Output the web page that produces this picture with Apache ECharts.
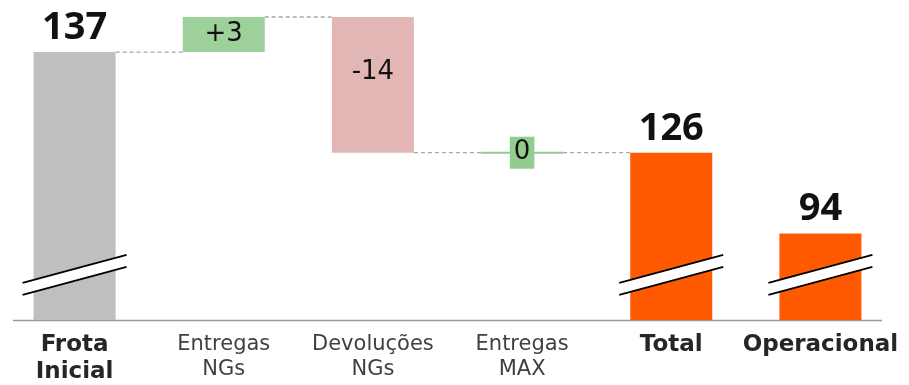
<!DOCTYPE html>
<html>
<head>
<meta charset="utf-8">
<script src="https://cdn.jsdelivr.net/npm/echarts@6/dist/echarts.min.js"></script>
<style>
  html, body { margin: 0; padding: 0; background: #fff; }
  #chart { width: 909px; height: 385px; }
</style>
</head>
<body>
<div id="chart"></div>
<script>
// chart data
var categories = ['Frota\nInicial', 'Entregas\nNGs', 'Devoluções\nNGs', 'Entregas\nMAX', 'Total', 'Operacional']
var changes = [137, 3, -14, 0, 126, 94]
var isTotal = [true, false, false, false, true, true]
var valueLabels = ['137', '+3', '-14', '0', '126', '94']

// broken value axis (the bars are drawn with a cut near the bottom)
var axisBreaks = [
  { start: 3.8, end: 90.5, gap: 0.1 },
  { start: 95.5, end: 124.5, gap: 3.9 },
  { start: 128, end: 135, gap: 4.6 }
]

var colors = ['#bfbfbf', '#9dd09b', '#e2b6b4', '#92cc8e', '#ff5a00', '#ff5a00']
var barW = 82

// waterfall: invisible base + visible part
var base = []
var height = []
var connectors = []
var zeroSteps = []
var running = 0
for (var i = 0; i < changes.length; i++) {
  var v = changes[i]
  if (isTotal[i]) {
    base.push(0)
    height.push(v)
    if (i === 0) running = v
  } else if (v >= 0) {
    base.push(running)
    height.push(v)
    if (v === 0) zeroSteps.push([i, running])
    running += v
  } else {
    base.push(running + v)
    height.push(-v)
    running += v
  }
  // dashed link to the next step (not after the final total)
  if (i < changes.length - 1 && !(isTotal[i] && i > 0)) {
    connectors.push([i, running])
  }
}
var breakMarks = []
isTotal.forEach(function (t, i) { if (t) breakMarks.push([i, 0]) })

var valueData = height.map(function (h, i) {
  var lbl
  if (isTotal[i]) {
    lbl = {
      show: true, position: 'top', distance: 5, formatter: valueLabels[i],
      fontFamily: 'Open Sans', fontWeight: 'bold', fontSize: 38, color: '#111'
    }
  } else if (changes[i] > 0) {
    lbl = {
      show: true, position: 'inside', formatter: valueLabels[i],
      fontFamily: 'DejaVu Sans', fontSize: 26, color: '#111'
    }
  } else if (changes[i] < 0) {
    lbl = {
      show: true, position: ['50%', 55], align: 'center', verticalAlign: 'middle',
      formatter: valueLabels[i], fontFamily: 'DejaVu Sans', fontSize: 26, color: '#111'
    }
  } else {
    lbl = { show: false }
  }
  return { value: h, itemStyle: { color: colors[i] }, label: lbl }
})

var myChart = echarts.init(document.getElementById('chart'))
myChart.setOption({
  animation: false,
  backgroundColor: '#fff',
  grid: { left: 0, right: 14, top: 17, bottom: 65 },
  xAxis: {
    type: 'category',
    data: categories,
    axisLine: { show: false },
    axisTick: { show: false },
    axisLabel: {
      interval: 0,
      margin: 12,
      formatter: function (val, idx) {
        var s = isTotal[idx] ? 'b' : 'n'
        return val.split('\n').map(function (l) { return '{' + s + '|' + l + '}' }).join('\n')
      },
      rich: {
        b: { fontFamily: 'DejaVu Sans', fontWeight: 'bold', fontSize: 23, lineHeight: 27, color: '#262626' },
        n: { fontFamily: 'DejaVu Sans', fontSize: 21, lineHeight: 25, color: '#404040' }
      }
    }
  },
  yAxis: {
    type: 'value',
    min: 0,
    max: 140,
    show: false,
    splitLine: { show: false },
    breaks: axisBreaks,
    breakArea: { show: false }
  },
  graphic: [{
    type: 'line',
    shape: { x1: 13, y1: 320.5, x2: 882, y2: 320.5 },
    style: { stroke: '#9a9a9a', lineWidth: 1.5 },
    z: 0
  }],
  series: [
    {
      name: 'links',
      type: 'custom',
      z: 1,
      silent: true,
      data: connectors,
      renderItem: function (params, api) {
        var a = api.coord([api.value(0), api.value(1)])
        var b = api.coord([api.value(0) + 1, api.value(1)])
        return {
          type: 'line',
          shape: { x1: a[0] + barW / 2, y1: a[1], x2: b[0] - barW / 2, y2: b[1] },
          style: { stroke: '#a6a6a6', lineWidth: 1.3, lineDash: [4, 3] }
        }
      }
    },
    {
      name: 'base',
      type: 'bar',
      stack: 'w',
      z: 2,
      silent: true,
      barWidth: barW,
      itemStyle: { color: 'transparent' },
      data: base
    },
    {
      name: 'value',
      type: 'bar',
      stack: 'w',
      z: 2,
      barWidth: barW,
      data: valueData
    },
    {
      name: 'zero',
      type: 'custom',
      z: 5,
      silent: true,
      data: zeroSteps,
      renderItem: function (params, api) {
        var p = api.coord([api.value(0), api.value(1)])
        var i = api.value(0)
        return {
          type: 'group',
          children: [
            {
              type: 'line',
              shape: { x1: p[0] - barW / 2, y1: p[1], x2: p[0] + barW / 2, y2: p[1] },
              style: { stroke: colors[i], lineWidth: 2 }
            },
            {
              type: 'text',
              x: p[0],
              y: p[1],
              style: {
                text: valueLabels[i], align: 'center', verticalAlign: 'middle',
                fontFamily: 'DejaVu Sans', fontSize: 26, lineHeight: 26, fill: '#111',
                backgroundColor: colors[i], padding: [3, 4]
              }
            }
          ]
        }
      }
    },
    {
      name: 'cuts',
      type: 'custom',
      z: 6,
      silent: true,
      data: breakMarks,
      renderItem: function (params, api) {
        var i = api.value(0)
        var lo = api.coord([i, axisBreaks[0].start])
        var hi = api.coord([i, axisBreaks[0].end])
        var cx = lo[0]
        var cy = (lo[1] + hi[1]) / 2
        var L = cx - barW / 2 - 11
        var R = cx + barW / 2 + 11
        return {
          type: 'group',
          children: [
            {
              type: 'polygon',
              shape: { points: [[L, cy + 8], [R, cy - 20], [R, cy - 8], [L, cy + 20]] },
              style: { fill: '#fff' }
            },
            {
              type: 'line',
              shape: { x1: L, y1: cy + 8, x2: R, y2: cy - 20 },
              style: { stroke: '#000', lineWidth: 1.8 }
            },
            {
              type: 'line',
              shape: { x1: L, y1: cy + 20, x2: R, y2: cy - 8 },
              style: { stroke: '#000', lineWidth: 1.8 }
            }
          ]
        }
      }
    }
  ]
})
</script>
</body>
</html>
